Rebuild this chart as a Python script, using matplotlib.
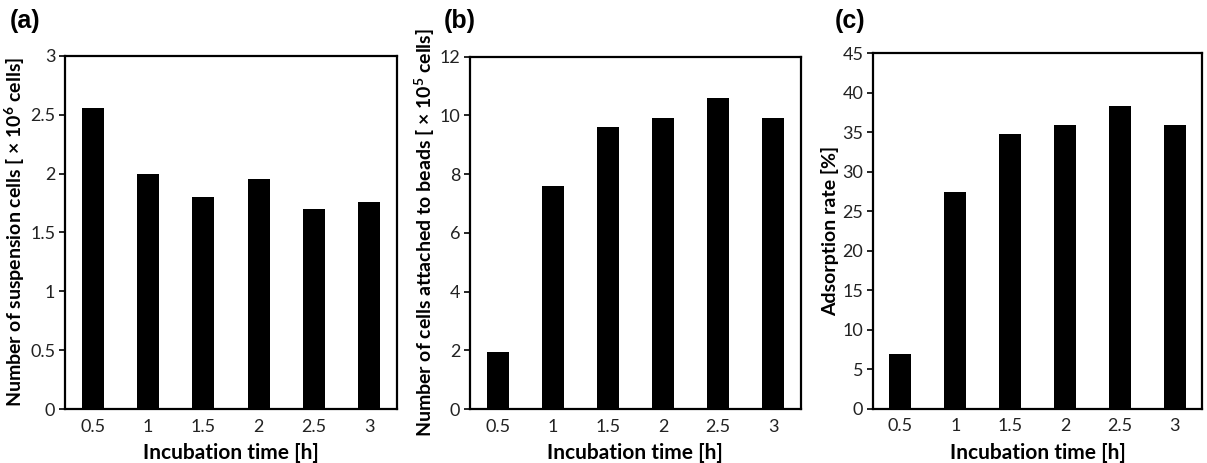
import matplotlib
matplotlib.use('Agg')
import matplotlib.pyplot as plt

plt.rcParams['font.family'] = ['Lato', 'DejaVu Sans']
plt.rcParams['mathtext.default'] = 'regular'

times = ['0.5', '1', '1.5', '2', '2.5', '3']
suspension = [2.56, 2.0, 1.80, 1.95, 1.70, 1.76]
attached = [1.94, 7.59, 9.59, 9.92, 10.59, 9.92]
adsorption = [6.95, 27.4, 34.7, 35.9, 38.3, 35.9]

fig = plt.figure(figsize=(12.07, 4.63), dpi=100)

panels = [
    ([0.0539, 0.1166, 0.275, 0.763], suspension, 3, 0.5,
     'Number of suspension cells [ × 10$^{6}$ cells]', '(a)', 0.008),
    ([0.3894, 0.1166, 0.274, 0.761], attached, 12, 2,
     'Number of cells attached to beads [ × 10$^{5}$ cells]', '(b)', 0.368),
    ([0.7233, 0.1173, 0.2726, 0.768], adsorption, 45, 5,
     'Adsorption rate [%]', '(c)', 0.692),
]

for rect, vals, ymax, step, ylab, tag, tx in panels:
    ax = fig.add_axes(rect)
    ax.bar(range(len(times)), vals, width=0.4, color='black')
    ax.set_xlim(-0.5, len(times) - 0.5)
    ax.set_ylim(0, ymax)
    ticks = [i * step for i in range(int(round(ymax / step)) + 1)]
    ax.set_yticks(ticks)
    ax.set_yticklabels([('%g' % t) for t in ticks])
    ax.set_xticks(range(len(times)))
    ax.set_xticklabels(times)
    ax.tick_params(axis='x', length=0, labelsize=13, pad=7, labelcolor='#222222')
    ax.tick_params(axis='y', direction='out', length=4, width=1.2, labelsize=13, pad=3,
                   labelcolor='#222222')
    for s in ax.spines.values():
        s.set_linewidth(1.6)
    ax.set_xlabel('Incubation time [h]', fontsize=15, fontweight='bold', labelpad=6)
    ax.set_ylabel(ylab, fontsize=14, fontweight='bold', labelpad=2)
    fig.text(tx, 0.955, tag, fontsize=18, fontweight='bold', va='center',
             family=['Liberation Sans', 'DejaVu Sans'])

fig.savefig('out.png', dpi=100)
